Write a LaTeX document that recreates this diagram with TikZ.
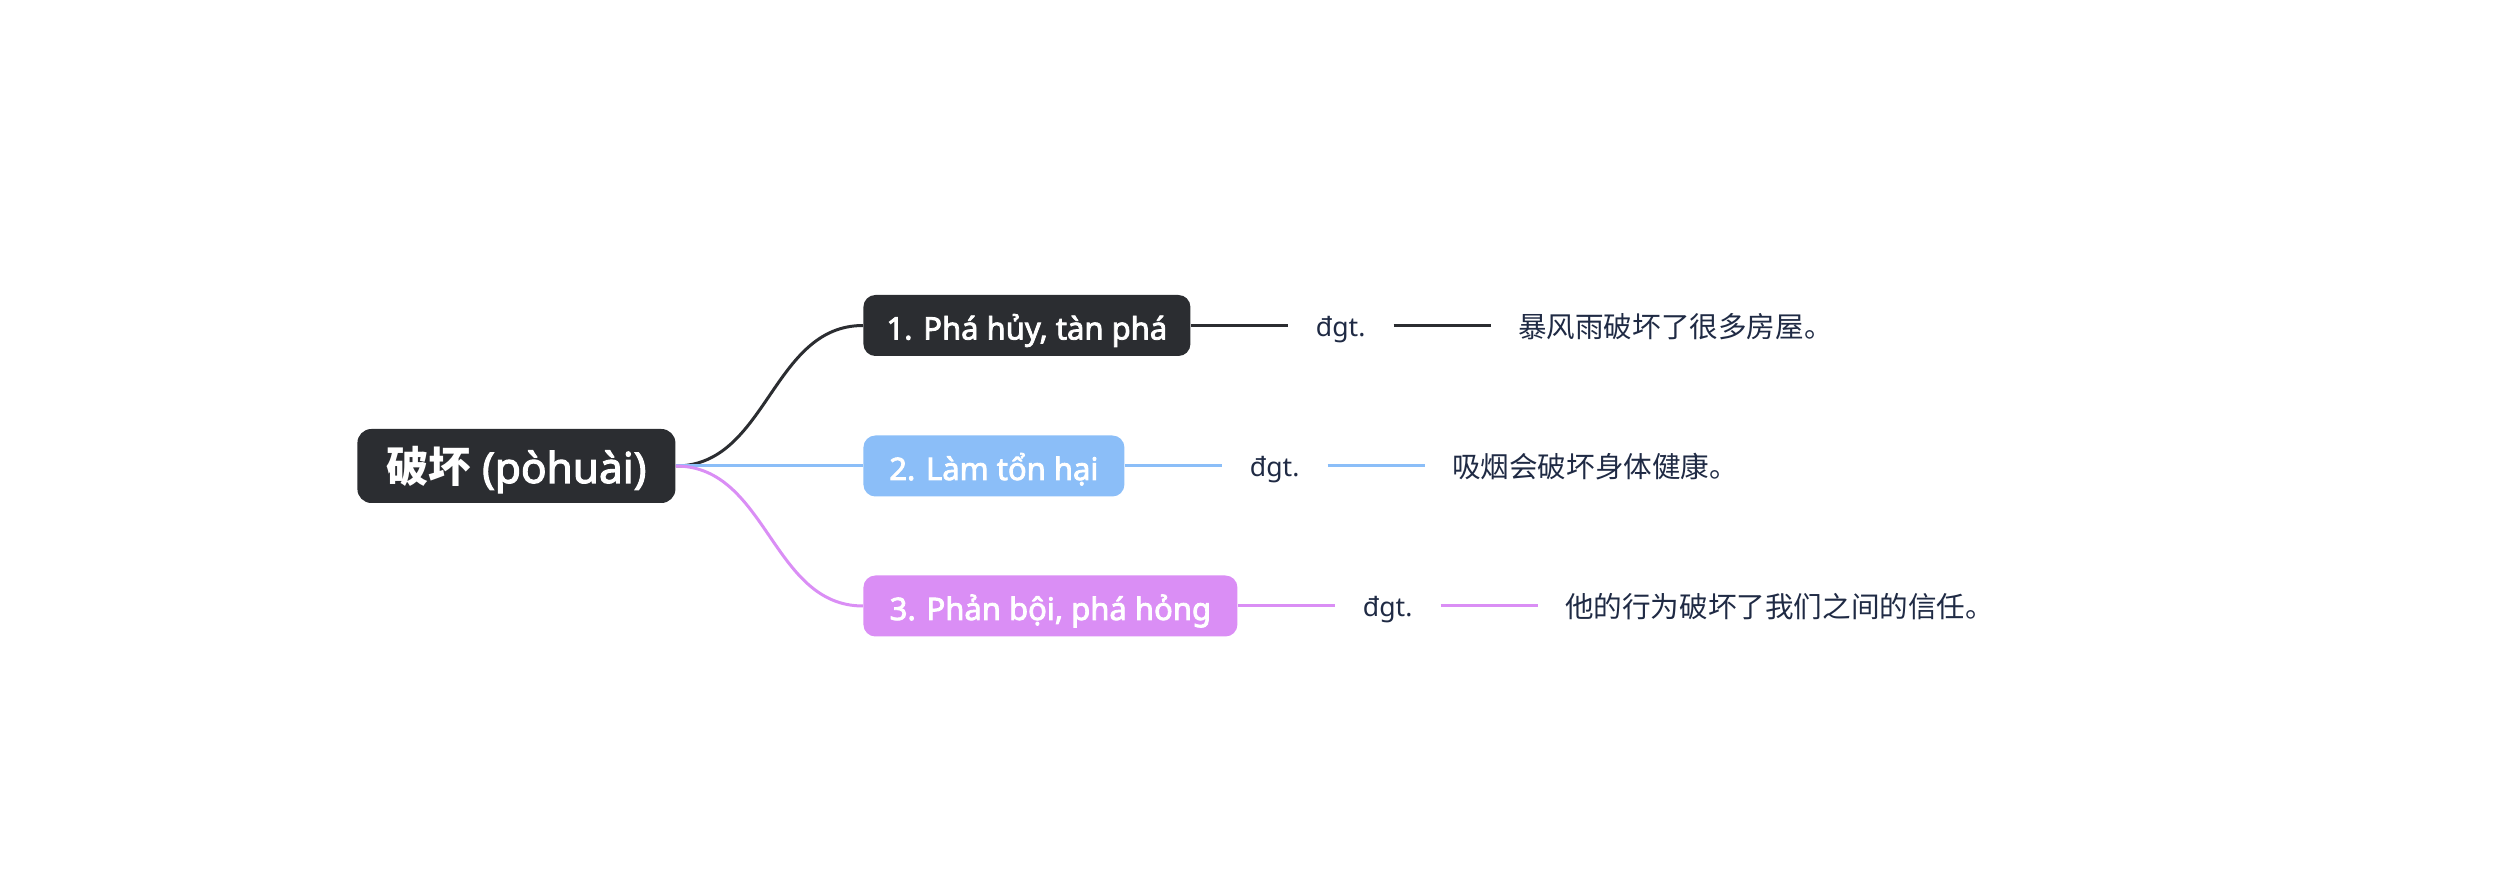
\documentclass[tikz,border=0pt]{standalone}
\usepackage{fontspec}
\setmainfont{Noto Sans}[BoldFont={Noto Sans}, BoldFeatures={FakeBold=2.6}]
\newfontfamily\cjk{Noto Sans CJK SC}
\usepackage{tikz}
\usetikzlibrary{positioning}

\definecolor{rootdark}{HTML}{2B2D31}
\definecolor{skyblue}{HTML}{8BBEF8}
\definecolor{lilac}{HTML}{DA8EF5}
\definecolor{inkblue}{HTML}{1F2A44}

\tikzset{
      box/.style={rounded corners=6pt, text=white, font=\bfseries\fontsize{15.5}{18}\selectfont,
            inner sep=0pt, minimum height=30.5pt, text height=17pt, text depth=3pt, anchor=west},
      wordclass/.style={text=inkblue, font=\fontsize{13.3}{15}\selectfont, inner sep=0pt,
            minimum width=52.5pt, text height=12pt, text depth=1pt},
      example/.style={text=inkblue, font=\cjk\fontsize{14.3}{16}\selectfont, inner xsep=13.5pt,
            inner ysep=0pt, text height=13pt, text depth=1pt},
      wire/.style={line width=1.5pt}
}

\begin{document}
\begin{tikzpicture}[x=0.5pt, y=-0.5pt]
      \useasboundingbox (0, 0) rectangle (2517, 881);
      \node[box, fill=rootdark, rounded corners=7pt, minimum width=159pt, minimum height=37pt,
            text height=20pt, text depth=3pt,
            font=\bfseries\fontsize{21.2}{25}\selectfont] (root) at (357, 466) {{\cjk\bfseries 破坏} (pòhuài)};
      \node[box, fill=rootdark, minimum width=163.5pt] (n1) at (863, 325.5) {1. Phá hủy, tàn phá};
      \node[box, fill=skyblue, minimum width=130.5pt] (n2) at (863, 466) {2. Làm tổn hại};
      \node[box, fill=lilac, minimum width=187pt] (n3) at (863, 606) {3. Phản bội, phá hỏng};
      \node[wordclass, right=48.5pt of n1] (w1) {đgt.};
      \node[wordclass, right=48.5pt of n2] (w2) {đgt.};
      \node[wordclass, right=48.5pt of n3] (w3) {đgt.};
      \node[example, right=48.5pt of w1] (e1) {暴风雨破坏了很多房屋。};
      \node[example, right=48.5pt of w2] (e2) {吸烟会破坏身体健康。};
      \node[example, right=48.5pt of w3] (e3) {他的行为破坏了我们之间的信任。};
      \draw[wire, rootdark] (root.east) to[out=0, in=180] (n1.west);
      \draw[wire, skyblue] (root.east) -- (n2.west);
      \draw[wire, lilac] (root.east) to[out=0, in=180] (n3.west);
      \draw[wire, rootdark] (n1) -- (w1);
      \draw[wire, rootdark] (w1) -- (e1);
      \draw[wire, skyblue] (n2) -- (w2);
      \draw[wire, skyblue] (w2) -- (e2);
      \draw[wire, lilac] (n3) -- (w3);
      \draw[wire, lilac] (w3) -- (e3);
\end{tikzpicture}
\end{document}
